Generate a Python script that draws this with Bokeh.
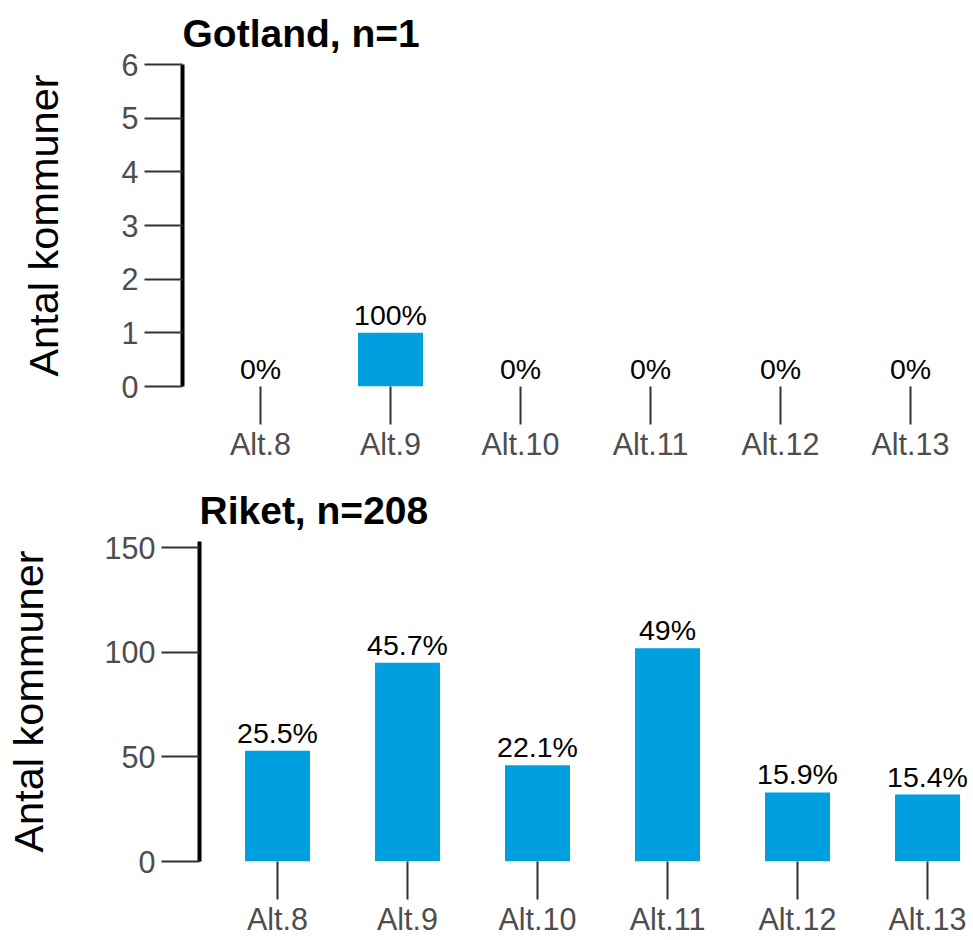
from bokeh.plotting import figure
from bokeh.models import Range1d, FixedTicker, ColumnDataSource
from bokeh.embed import file_html
from bokeh.resources import INLINE
from bokeh.core.properties import value

categories = ["Alt.8", "Alt.9", "Alt.10", "Alt.11", "Alt.12", "Alt.13"]

gotland_title = "Gotland, n=1"
gotland_counts = [0, 1, 0, 0, 0, 0]
gotland_labels = ["0%", "100%", "0%", "0%", "0%", "0%"]
gotland_yticks = [0, 1, 2, 3, 4, 5, 6]
gotland_ymax = 6

riket_title = "Riket, n=208"
riket_counts = [53, 95, 46, 102, 33, 32]
riket_labels = ["25.5%", "45.7%", "22.1%", "49%", "15.9%", "15.4%"]
riket_yticks = [0, 50, 100, 150]
riket_ymax = 153

y_axis_label = "Antal kommuner"

FONT = "Liberation Sans"
BAR = "#009FE0"


def panel(title, counts, labels, ymax, yticks, height, b_left, b_top, b_bottom, unit, label_standoff):
    width = 973
    b_right = 0
    frame_w = width - b_left - b_right
    x_end = -0.6 + frame_w / unit
    idx = list(range(len(categories)))
    src = ColumnDataSource(dict(x=idx, cat=categories, top=counts, lab=labels))
    p = figure(width=width, height=height, output_backend="svg", toolbar_location=None,
               x_range=Range1d(-0.6, x_end), y_range=Range1d(0, ymax),
               min_border_left=b_left, min_border_right=b_right,
               min_border_top=b_top, min_border_bottom=b_bottom)
    p.title.text = title
    p.title.text_font = FONT
    p.title.text_font_size = "39px"
    p.title.text_font_style = "bold"
    p.title.text_color = "black"
    p.title.align = "left"
    p.title.standoff = 19
    p.outline_line_color = None
    p.xgrid.visible = False
    p.ygrid.visible = False
    p.background_fill_color = "white"
    p.border_fill_color = "white"

    p.vbar(x="x", top="top", bottom=0, width=0.5, source=src,
           fill_color=BAR, line_color=None)
    p.text(x="x", y="top", text="lab", source=src, text_align="center",
           text_baseline="alphabetic", y_offset=-18,
           text_font=value(FONT), text_font_size="28.5px", text_color="black")

    xa = p.xaxis[0]
    xa.ticker = FixedTicker(ticks=idx)
    xa.major_label_overrides = {i: c for i, c in zip(idx, categories)}
    xa.axis_line_color = None
    xa.major_tick_out = 38
    xa.major_tick_in = 0
    xa.minor_tick_out = 0
    xa.minor_tick_in = 0
    xa.major_tick_line_color = "#333333"
    xa.major_tick_line_width = 2
    xa.major_label_standoff = 2
    xa.major_label_text_font = FONT
    xa.major_label_text_font_size = "30.5px"
    xa.major_label_text_color = "#4D4D4D"

    ya = p.yaxis[0]
    ya.ticker = FixedTicker(ticks=yticks)
    ya.axis_line_color = "black"
    ya.axis_line_width = 4
    ya.major_tick_out = 38
    ya.major_tick_in = 0
    ya.minor_tick_out = 0
    ya.minor_tick_in = 0
    ya.major_tick_line_color = "#333333"
    ya.major_tick_line_width = 2
    ya.major_label_standoff = 6
    ya.major_label_text_font = FONT
    ya.major_label_text_font_size = "30.5px"
    ya.major_label_text_color = "#4D4D4D"
    ya.axis_label = y_axis_label
    ya.axis_label_text_font = FONT
    ya.axis_label_text_font_size = "41.5px"
    ya.axis_label_text_font_style = "normal"
    ya.axis_label_text_color = "black"
    ya.axis_label_standoff = label_standoff
    return p


p1 = panel(gotland_title, gotland_counts, gotland_labels, gotland_ymax, gotland_yticks,
           height=463, b_left=182, b_top=64, b_bottom=77, unit=130, label_standoff=52)
p2 = panel(riket_title, riket_counts, riket_labels, riket_ymax, riket_yticks,
           height=475, b_left=199, b_top=78, b_bottom=77, unit=130, label_standoff=50)

open("out.html", "w").write(file_html([p1, p2], INLINE))
